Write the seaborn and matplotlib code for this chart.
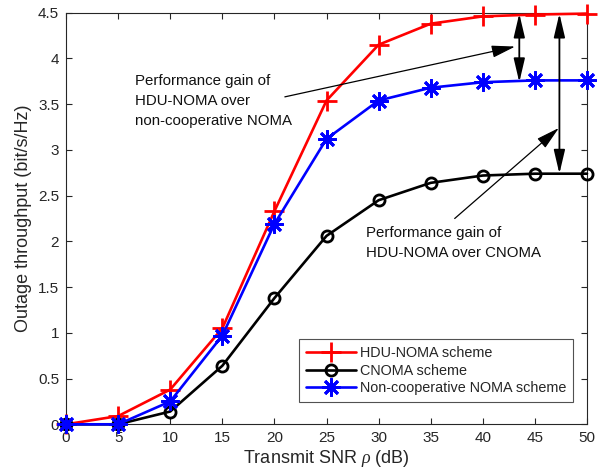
import pandas as pd
import seaborn as sns
import matplotlib.pyplot as plt

# Données
snr = [0, 5, 10, 15, 20, 25, 30, 35, 40, 45, 50]
hdu_noma = [0, 0.09, 0.38, 1.05, 2.33, 3.54, 4.15, 4.38, 4.46, 4.48, 4.49]
cnoma = [0, 0, 0.14, 0.64, 1.38, 2.06, 2.45, 2.64, 2.72, 2.74, 2.74]
noncoop = [0, 0, 0.25, 0.97, 2.19, 3.12, 3.54, 3.68, 3.74, 3.76, 3.76]

labels = ['HDU-NOMA scheme', 'CNOMA scheme', 'Non-cooperative NOMA scheme']
series = [hdu_noma, cnoma, noncoop]
colors = ['#ff0000', '#000000', '#0000ff']
markers = ['+', 'o', (8, 2, 0)]
msizes = [14, 8, 13]

sns.set_style('ticks')
plt.rcParams['font.family'] = ['Liberation Sans', 'DejaVu Sans']
plt.rcParams['mathtext.fontset'] = 'custom'
plt.rcParams['mathtext.it'] = 'Liberation Serif:italic'

fig = plt.figure(figsize=(6.08, 4.76), dpi=100)
ax = fig.add_axes([0.1086, 0.1086, 0.8569, 0.8647])

for lab, ys, c, m, ms in zip(labels, series, colors, markers, msizes):
    df = pd.DataFrame({'snr': snr, 'val': ys})
    sns.lineplot(data=df, x='snr', y='val', ax=ax, color=c, marker=m,
                 markersize=ms, linewidth=1.9, markeredgewidth=2,
                 markerfacecolor='none' if m == 'o' else c,
                 markeredgecolor=c, label=lab, clip_on=False, zorder=3)

ax.set_xlim(0, 50)
ax.set_ylim(0, 4.5)
ax.set_xticks(range(0, 51, 5))
ax.set_yticks([0, 0.5, 1, 1.5, 2, 2.5, 3, 3.5, 4, 4.5])
ax.set_yticklabels(['0', '0.5', '1', '1.5', '2', '2.5', '3', '3.5', '4', '4.5'])
ax.tick_params(direction='in', top=True, right=True, length=4, width=0.8,
               labelsize=11, colors='#262626', pad=5)
for s in ax.spines.values():
    s.set_visible(True)
    s.set_color('#262626')
    s.set_linewidth(0.8)
ax.set_xlabel(r'Transmit SNR $\rho$ (dB)', fontsize=13, color='#262626', labelpad=2)
ax.set_ylabel('Outage throughput (bit/s/Hz)', fontsize=13, color='#262626', labelpad=4)

# Flèches doubles (gains)
dbl = dict(arrowstyle='<|-|>,head_length=0.85,head_width=0.2', color='black',
           lw=1.3, mutation_scale=17, shrinkA=0, shrinkB=0)
ax.annotate('', xy=(43.5, 4.49), xytext=(43.5, 3.74), arrowprops=dbl)
ax.annotate('', xy=(47.35, 4.49), xytext=(47.35, 2.74), arrowprops=dbl)

# Textes et flèches de commentaire
one = dict(arrowstyle='-|>,head_length=0.85,head_width=0.22', color='black',
           lw=0.9, mutation_scale=17, shrinkA=0, shrinkB=0)
ax.annotate('', xy=(43.1, 4.13), xytext=(21.0, 3.58), arrowprops=one)
ax.annotate('', xy=(47.3, 3.24), xytext=(37.3, 2.25), arrowprops=one)
ax.text(6.6, 3.83, 'Performance gain of\nHDU-NOMA over\nnon-cooperative NOMA',
        fontsize=10.8, va='top', ha='left', linespacing=1.55, color='#111111')
ax.text(28.8, 2.17, 'Performance gain of\nHDU-NOMA over CNOMA',
        fontsize=10.8, va='top', ha='left', linespacing=1.55, color='#111111')

leg = ax.legend(loc='lower right', bbox_to_anchor=(0.9725, 0.055), fontsize=10.4,
                frameon=True, fancybox=False, edgecolor='#262626',
                handlelength=3.5, handletextpad=0.25, borderpad=0.45,
                labelspacing=0.25, borderaxespad=0)
leg.get_frame().set_linewidth(0.8)

plt.savefig('out.png', dpi=100)
